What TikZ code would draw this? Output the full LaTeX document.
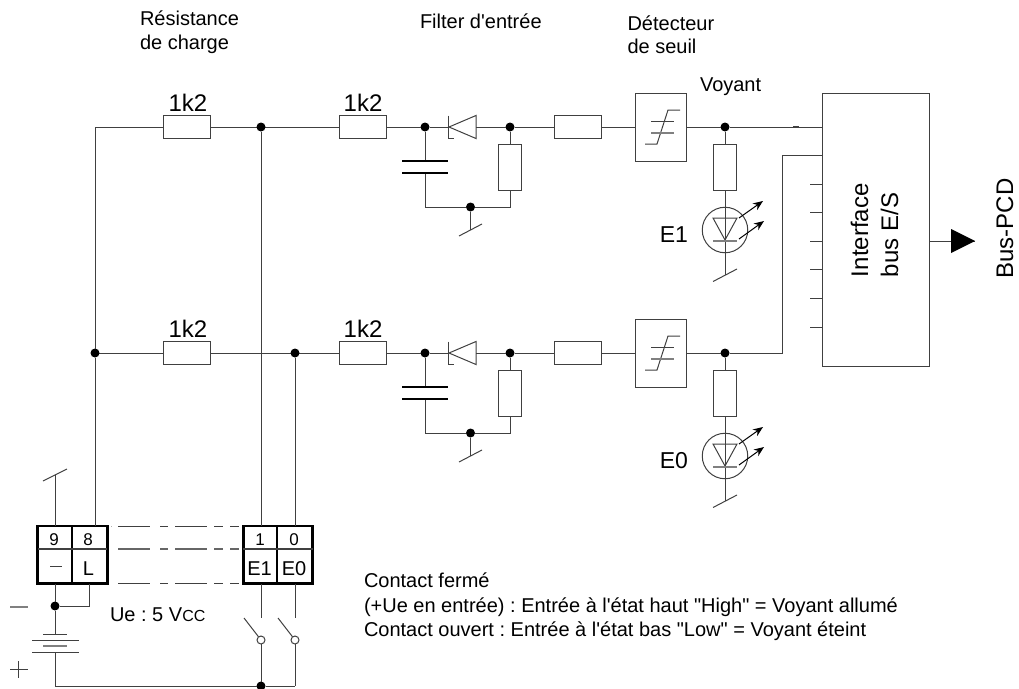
\documentclass[tikz,border=0pt]{standalone}
\usepackage{fontspec}
\setmainfont{Liberation Sans}[Ligatures=TeXOff]
\usetikzlibrary{arrows.meta}
\definecolor{wire}{gray}{0.25}
\tikzset{
  wireline/.style={draw=wire,line width=1pt},
  grayline/.style={draw=gray,line width=1.3pt},
  res/.style={draw=wire,fill=white,line width=1pt,minimum width=46.5pt,minimum height=23pt,inner sep=0pt,outer sep=0pt,rectangle},
  vres/.style={res,minimum width=23pt,minimum height=46pt},
  junction/.style={circle,fill=black,minimum size=9pt,inner sep=0pt,outer sep=0pt},
  pt/.style={coordinate},
  opencontact/.style={circle,draw=wire,fill=white,line width=1pt,minimum size=8pt,inner sep=0pt,outer sep=0pt},
  termbox/.style={draw=black,fill=white,line width=2.8pt,minimum height=57.5pt,inner sep=0pt,outer sep=0pt,rectangle},
  lab/.style={inner sep=0pt,outer sep=0pt,font=\fontsize{20}{24}\selectfont},
  big/.style={inner sep=0pt,outer sep=0pt,font=\fontsize{24}{28}\selectfont},
  termnum/.style={inner sep=0pt,outer sep=0pt,font=\fontsize{17}{20}\selectfont},
  termlab/.style={inner sep=0pt,outer sep=0pt,font=\fontsize{20}{23}\selectfont},
  thickplate/.style={draw=black,line width=2.4pt},
  dashedlink/.style={draw=wire,line width=1pt,dash pattern=on 32pt off 10pt on 8pt off 7pt on 32pt off 7pt on 9pt off 7pt on 9pt off 3pt},
  ledarrow/.style={draw=black,line width=1pt,-{Stealth[length=10pt,width=8pt]}},
}
\begin{document}
\frenchspacing
\begin{tikzpicture}[x=1pt,y=-1pt]
\useasboundingbox (0,0) rectangle (1019,688);
% interface box
\node[draw=wire,line width=1pt,minimum width=107pt,minimum height=273pt,inner sep=0pt,outer sep=0pt] (bus) at (875.5,229.5) {};
% two input rows
\foreach \n/\yy/\led in {1/127/E1,0/353/E0}{
  \node[pt] (start\n) at (95,\yy) {};
  \node[res] (ra\n) at (187,\yy) {};
  \node[res] (rb\n) at (363,\yy) {};
  \node[res] (rc\n) at (578,\yy) {};
  \node[junction] (ja\n) at (425,\yy) {};
  \node[junction] (jb\n) at (510,\yy) {};
  \node[junction] (jc\n) at (725,\yy) {};
  \node[res,minimum width=51pt,minimum height=68pt] (thr\n) at (660.5,\yy) {};
  \node[vres] (rd\n) at (510,\yy+40) {};
  \node[vres] (re\n) at (725,\yy+40) {};
  \node[pt] (capT\n) at (425,\yy+34) {};
  \node[pt] (capB\n) at (425,\yy+46) {};
  \node[pt] (capC\n) at (425,\yy+80) {};
  \node[junction] (jg\n) at (470.5,\yy+80) {};
  \node[pt] (rdC\n) at (510,\yy+80) {};
  \node[pt] (gnd\n) at (470.5,\yy+103) {};
  \node[circle,draw=wire,line width=1pt,minimum size=45.5pt,inner sep=0pt,outer sep=0pt] (led\n) at (725,\yy+103) {};
  \node[pt] (gndl\n) at (725,\yy+148) {};
  \node[pt] (dtip\n) at (449,\yy) {};
  \node[pt] (dbase\n) at (476,\yy) {};
  \draw[wireline] (start\n) -- (ra\n);
  \draw[wireline] (ra\n) -- (rb\n);
  \draw[wireline] (rb\n) -- (ja\n) -- (dtip\n);
  \draw[wireline] (dbase\n) -- (jb\n) -- (rc\n);
  \draw[wireline] (rc\n) -- (thr\n);
  \draw[wireline] (thr\n) -- (jc\n);
  \draw[wireline] (jb\n) -- (rd\n);
  \draw[wireline] (jc\n) -- (re\n);
  \draw[wireline] (rd\n) -- (rdC\n) -- (jg\n) -- (capC\n) -- (capB\n);
  \draw[wireline] (ja\n) -- (capT\n);
  \draw[wireline] (jg\n) -- (gnd\n);
  \draw[wireline] (re\n) -- (gndl\n);
  \draw[thickplate] ([xshift=-23pt]capT\n) -- ([xshift=23pt]capT\n);
  \draw[thickplate] ([xshift=-23pt]capB\n) -- ([xshift=23pt]capB\n);
  \draw[wireline] ([shift={(-11.5,6)}]gnd\n) -- ([shift={(11.5,-6)}]gnd\n);
  \draw[wireline] ([shift={(-12,6.5)}]gndl\n) -- ([shift={(12,-6)}]gndl\n);
  % diode
  \draw[wireline] ([yshift=-11.5pt]dbase\n) -- (dtip\n) -- ([yshift=11.5pt]dbase\n) -- cycle;
  \draw[wireline] ([shift={(-1,-11.5)}]dtip\n) -- ([shift={(-1,11.5)}]dtip\n) -- ([shift={(5,11.5)}]dtip\n);
  % threshold symbol
  \draw[wireline] ([shift={(-15.5,17)}]thr\n.center) -- ([shift={(-3.5,17)}]thr\n.center) -- ([shift={(7.5,-17)}]thr\n.center) -- ([shift={(19.5,-17)}]thr\n.center);
  \draw[wireline] ([shift={(-9.5,-6)}]thr\n.center) -- ([shift={(13.5,-6)}]thr\n.center);
  \draw[grayline] ([shift={(-9.5,6)}]thr\n.center) -- ([shift={(13.5,6)}]thr\n.center);
  % LED
  \draw[wireline] ([shift={(-12,-12)}]led\n.center) -- ([shift={(12,-12)}]led\n.center) -- ([shift={(0,10)}]led\n.center) -- cycle;
  \draw[grayline] ([shift={(-12,11)}]led\n.center) -- ([shift={(12,11)}]led\n.center);
  \draw[ledarrow] ([shift={(14,-12)}]led\n.center) -- ([shift={(38,-29)}]led\n.center);
  \draw[ledarrow] ([shift={(14,9)}]led\n.center) -- ([shift={(39,-9)}]led\n.center);
  \node[big,anchor=base east,font=\fontsize{23}{26}\selectfont] (ledlab\n) at (688,\yy+115) {\led};
}
\node[big,anchor=base] (va1) at (188,111) {1k2};
\node[big,anchor=base] (vb1) at (363,111) {1k2};
\node[big,anchor=base] (va0) at (188,337) {1k2};
\node[big,anchor=base] (vb0) at (363,337) {1k2};
% interface connections
\node[pt] (ifa) at (822,127) {};
\draw[wireline] (jc1) -- (ifa);
\draw[wire,line width=1.6pt] (793,127) -- (799,127);
\node[pt] (ifb) at (782,155) {};
\node[pt] (ifbr) at (822,155) {};
\node[pt] (ifc) at (782,353) {};
\draw[wireline] (jc0) -- (ifc) -- (ifb) -- (ifbr);
\foreach \yy [count=\i] in {184,212,241,269,298,327}{
  \node[pt] (tk\i) at (822,\yy) {};
  \draw[wireline] (tk\i) -- ([xshift=-12pt]tk\i);
}
\node[rotate=90,big,anchor=base west] (iface) at (868,277) {Interface};
\node[rotate=90,big,anchor=base west] (ifbus) at (898,277) {bus E/S};
\node[pt] (bustip) at (975,241) {};
\draw[wireline] (bus.east |- bustip) -- (bustip);
\fill[black] (951,229) -- (bustip) -- (951,253) -- cycle;
\node[rotate=90,big,anchor=base] (buspcd) at (1013,228.5) {Bus-PCD};
% terminals
\node[termbox,minimum width=69.5pt] (tl) at (72.5,554.75) {};
\node[termbox,minimum width=69.5pt] (tr) at (278,554.75) {};
\node[pt] (tlm) at (72,526) {};\node[pt] (tlb) at (72,583.5) {};
\node[pt] (trm) at (277,526) {};\node[pt] (trb) at (277,583.5) {};
\draw[draw=black,line width=2.8pt] (tlm) -- (tlb);
\draw[draw=black,line width=2.8pt] (trm) -- (trb);
\draw[draw=wire,line width=1.2pt] (tl.west |- 0,549) -- (tl.east |- 0,549);
\draw[draw=wire,line width=1.2pt] (tr.west |- 0,549) -- (tr.east |- 0,549);
\node[termnum,anchor=base] (t9) at (54,545) {9};
\node[termnum,anchor=base] (t8) at (88,545) {8};
\node[termnum,anchor=base] (t1) at (260,545) {1};
\node[termnum,anchor=base] (t0) at (294,545) {0};
\node[pt] (tma) at (50,566) {};\node[pt] (tmb) at (62,566) {};
\draw[wireline] (tma) -- (tmb);
\node[termlab,anchor=base] (tL) at (88.5,575) {L};
\node[termlab,anchor=base] (tE1) at (259.5,575) {E1};
\node[termlab,anchor=base] (tE0) at (294,575) {E0};
% verticals
\node[junction] (jl) at (95,353) {};
\draw[wireline] (start1) -- (jl);
\draw[wireline] (jl) -- (95,526);
\node[junction] (j1t) at (261,127) {};
\draw[wireline] (j1t) -- (261,526);
\node[junction] (j0t) at (295,353) {};
\draw[wireline] (j0t) -- (295,526);
\node[pt] (g9) at (55,475) {};
\draw[wireline] (g9) -- (55,526);
\draw[wireline] (43,481) -- (67,469);
% dashed links
\node[pt] (da) at (118,526) {};\node[pt] (db) at (241,526) {};
\node[pt] (dc) at (118,549) {};\node[pt] (dd) at (241,549) {};
\node[pt] (de) at (118,583) {};\node[pt] (df) at (241,583) {};
\draw[dashedlink] (da) -- (db);
\draw[dashedlink,line width=1.3pt,draw=gray!80!black] (dc) -- (dd);
\draw[dashedlink] (de) -- (df);
\draw[draw=gray!60,line width=1pt] (111,526) -- ([xshift=-6pt]da);
% battery
\node[junction] (jn) at (55,606) {};
\node[pt] (nL) at (89,606) {};
\node[pt] (bT) at (55,634) {};
\node[pt] (bB) at (55,652) {};
\node[pt] (bc) at (55,686) {};
\node[junction] (jb2) at (261,686) {};
\node[pt] (bc2) at (295,686) {};
\draw[wireline] (55,584) -- (jn) -- (bT);
\draw[wireline] (jn) -- (nL) -- (89,584);
\draw[wireline] (bB) -- (bc) -- (jb2) -- (bc2);
\draw[wireline] (43,634) -- (67,634);
\draw[wireline] (32,640) -- (79,640);
\draw[grayline] (43,646) -- (67,646);
\draw[wireline] (32,652) -- (79,652);
\draw[grayline] (10,607) -- (28,607);
\draw[wireline] (10,669) -- (28,669);
\draw[wireline] (18.5,661) -- (18.5,678);
% switches
\node[opencontact] (c1) at (261,640) {};
\node[opencontact] (c0) at (295,640) {};
\draw[wireline] (c1) -- (jb2);
\draw[wireline] (c0) -- (bc2);
\draw[wireline] (261,584) -- (261,618);
\draw[wireline] (295,584) -- (295,618);
\draw[wireline] (244,618) -- (c1);
\draw[wireline] (278,618) -- (c0);
% text
\node[lab,anchor=base west] (ue) at (110,621) {Ue : 5 V{\fontsize{16}{18}\selectfont CC}};
\node[lab,anchor=base west] (c1t) at (364,587) {Contact fermé};
\node[lab,anchor=base west] (c2t) at (364,612) {(+Ue en entrée) : Entrée à l'état haut "High" = Voyant allumé};
\node[lab,anchor=base west] (c3t) at (364,636) {Contact ouvert : Entrée à l'état bas "Low" = Voyant éteint};
\node[lab,anchor=base west] (tr1) at (140,25) {Résistance};
\node[lab,anchor=base west] (tr2) at (140,49) {de charge};
\node[lab,anchor=base west] (tf) at (420,28) {Filter d'entrée};
\node[lab,anchor=base west] (td1) at (627.5,30) {Détecteur};
\node[lab,anchor=base west] (td2) at (627.5,53) {de seuil};
\node[lab,anchor=base west] (tv) at (700,91) {Voyant};
\end{tikzpicture}
\end{document}
